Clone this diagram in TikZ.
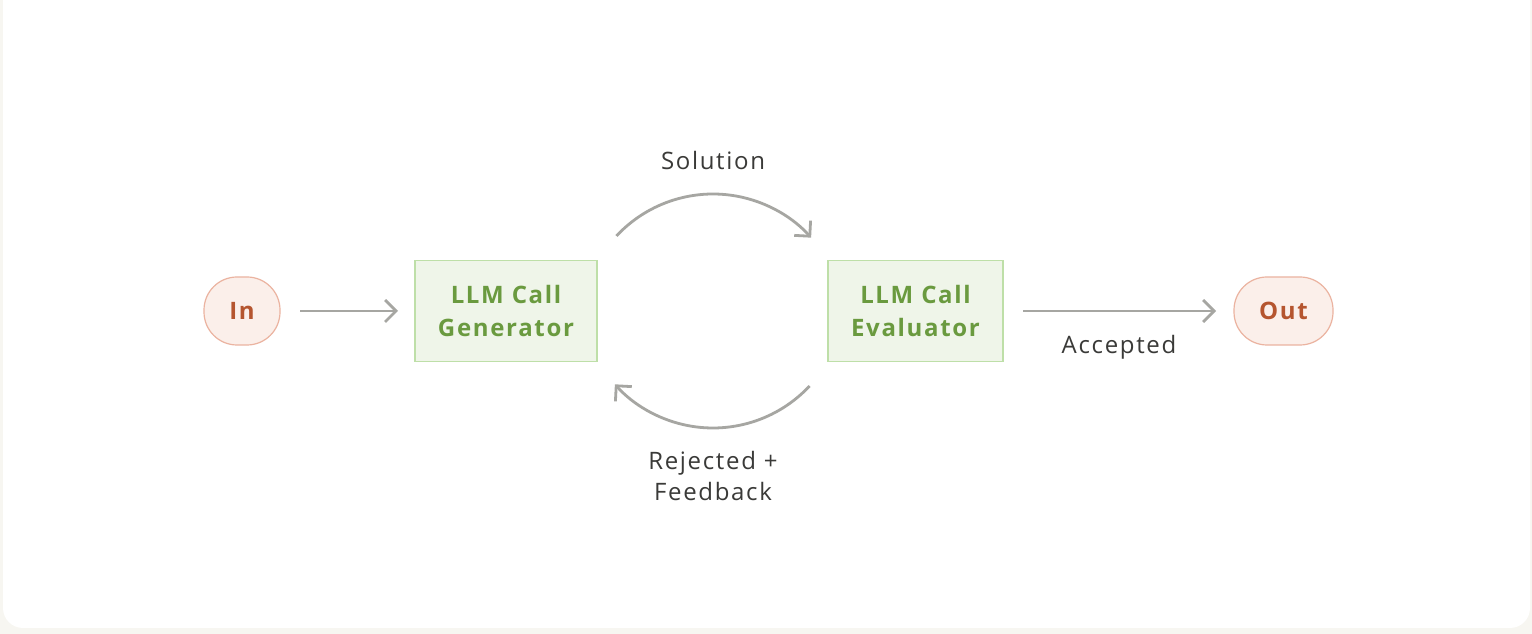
\documentclass[tikz,border=0pt]{standalone}
\usepackage{fontspec}
\setmainfont{Open Sans}[LetterSpace=7]
\usetikzlibrary{arrows.meta}
\definecolor{bgout}{HTML}{F7F6F1}
\definecolor{termfill}{HTML}{FBEFEA}
\definecolor{termdraw}{HTML}{EBB3A0}
\definecolor{termtext}{HTML}{B5552F}
\definecolor{boxfill}{HTML}{EFF5E9}
\definecolor{boxdraw}{HTML}{BEDFA8}
\definecolor{boxtext}{HTML}{6A9A3F}
\definecolor{arrowgray}{HTML}{A6A6A2}
\definecolor{labeltext}{HTML}{3A3A38}
\tikzset{
  term/.style={draw=termdraw, fill=termfill, line width=1.2pt, rounded corners=33pt,
    minimum height=68pt, text=termtext, font=\fontsize{24}{28}\selectfont\bfseries, inner sep=0pt},
  llmbox/.style={draw=boxdraw, fill=boxfill, line width=1.2pt, minimum width=182pt,
    minimum height=101pt, text=boxtext, align=center, inner sep=0pt,
    font=\fontsize{24}{33}\selectfont\bfseries},
  conn/.style={draw=arrowgray, line width=2.8pt, -{Straight Barb[length=11pt,width=22pt,line width=2.8pt]}},
  lbl/.style={text=labeltext, font=\fontsize{24}{31}\selectfont, align=center, inner sep=0pt}
}
\begin{document}
\begin{tikzpicture}[x=1pt,y=1pt]
\useasboundingbox (0,0) rectangle (1532,634);
\fill[bgout] (0,0) rectangle (1532,634);
\fill[white, rounded corners=20pt] (3,6) rectangle (1530,660);
\node[term, minimum width=76pt] (in) at (242,323) {In};
\node[llmbox] (gen) at (506,323) {LLM Call\\Generator};
\node[llmbox, minimum width=175pt] (eval) at (915.5,323) {LLM Call\\Evaluator};
\node[term, minimum width=99pt] (out) at (1283.5,323) {Out};
\coordinate (a1) at (300,323);
\coordinate (a2) at (398,323);
\draw[conn] (a1) -- (a2);
\coordinate (b1) at (1023,323);
\coordinate (b2) at (1216,323);
\draw[conn] (b1) -- (b2);
\draw[conn] (713,308) ++(137:132) coordinate (sol1) arc[start angle=137, end angle=42, radius=132];
\draw[conn] (713,338) ++(-43:132) coordinate (rej1) arc[start angle=-43, end angle=-138, radius=132];
\node[lbl] (solution) at (713,473) {Solution};
\node[lbl] (rejected) at (713,158) {Rejected +\\Feedback};
\node[lbl] (accepted) at (1119,287) {Accepted};
\end{tikzpicture}
\end{document}
